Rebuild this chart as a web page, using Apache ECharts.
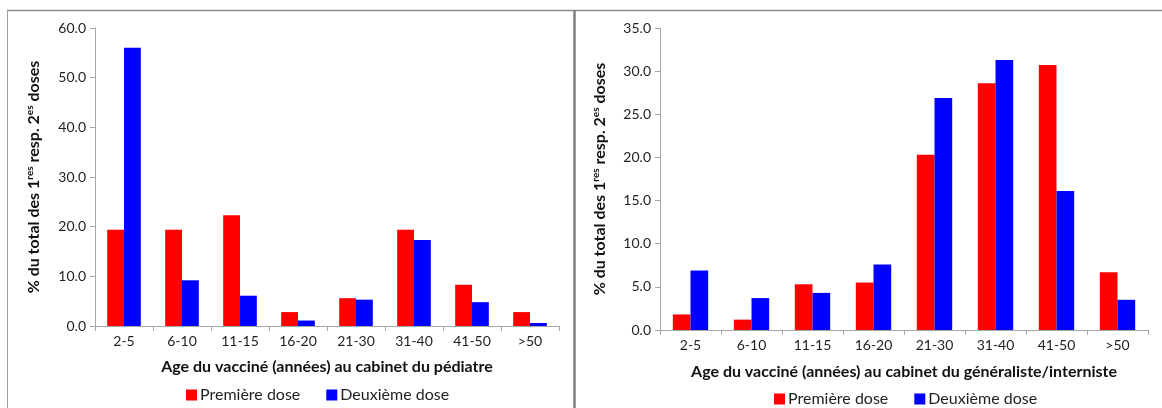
<!DOCTYPE html>
<html>
<head>
<meta charset="utf-8">
<script src="https://cdn.jsdelivr.net/npm/echarts@6/dist/echarts.min.js"></script>
<style>
  html, body { margin: 0; padding: 0; background: #fff; }
  #main { width: 1162px; height: 408px; }
</style>
</head>
<body>
<div id="main"></div>
<script>
// tranches d'age
var ageGroups = ['2-5', '6-10', '11-15', '16-20', '21-30', '31-40', '41-50', '>50'];

// cabinet du pediatre
var pedFirst = [19.4, 19.4, 22.3, 2.8, 5.6, 19.4, 8.3, 2.8];
var pedSecond = [56.0, 9.2, 6.1, 1.1, 5.3, 17.3, 4.8, 0.6];

// cabinet du generaliste / interniste
var genFirst = [1.8, 1.2, 5.3, 5.5, 20.3, 28.6, 30.7, 6.7];
var genSecond = [6.9, 3.7, 4.3, 7.6, 26.9, 31.3, 16.1, 3.5];

var seriesNames = ['Première dose', 'Deuxième dose'];
var colors = ['#ff0000', '#0000ff'];

var font = 'Lato, "Open Sans", sans-serif';
var axisGray = '#a6a6a6';

var yName = '% du total des 1{sup|res} resp. 2{sup|es} doses';
var yNameStyle = {
    fontFamily: font,
    fontWeight: 'bold',
    fontSize: 16,
    color: '#111',
    rich: {
        sup: {
            fontFamily: font,
            fontWeight: 'bold',
            fontSize: 10,
            color: '#111',
            verticalAlign: 'top',
            padding: [0, 0, 8, 0]
        }
    }
};

var makeX = function(gridIndex, name, gap) {
    return {
        type: 'category',
        gridIndex: gridIndex,
        data: ageGroups,
        name: name,
        nameLocation: 'middle',
        nameGap: gap,
        nameTextStyle: { fontFamily: font, fontWeight: 'bold', fontSize: 16, color: '#111' },
        axisLine: { lineStyle: { color: axisGray, width: 1 } },
        axisTick: { show: true, length: 5, lineStyle: { color: axisGray } },
        axisLabel: { fontFamily: font, fontSize: 14, color: '#1f1f1f', margin: 8, interval: 0 },
        splitLine: { show: false }
    };
};

var makeY = function(gridIndex, max, interval, gap) {
    return {
        type: 'value',
        gridIndex: gridIndex,
        min: 0,
        max: max,
        interval: interval,
        name: yName,
        nameLocation: 'middle',
        nameRotate: 90,
        nameGap: gap,
        nameTextStyle: yNameStyle,
        axisLine: { show: true, lineStyle: { color: axisGray, width: 1 } },
        axisTick: { show: true, length: 5, lineStyle: { color: axisGray } },
        axisLabel: {
            fontFamily: font, fontSize: 14, color: '#1f1f1f', margin: 9,
            formatter: function(v) { return v.toFixed(1); }
        },
        splitLine: { show: false }
    };
};

var makeBar = function(name, idx, data, color) {
    return {
        name: name,
        type: 'bar',
        xAxisIndex: idx,
        yAxisIndex: idx,
        data: data,
        barGap: '0%',
        barCategoryGap: '42%',
        itemStyle: { color: color },
        emphasis: { disabled: true }
    };
};

var makeLegend = function(left, top) {
    return {
        data: seriesNames,
        left: left,
        top: top,
        itemWidth: 11,
        itemHeight: 11,
        itemGap: 26,
        icon: 'rect',
        textStyle: { fontFamily: font, fontSize: 16, color: '#1f1f1f', padding: [0, 0, 0, -2] }
    };
};

var option = {
    animation: false,
    backgroundColor: '#ffffff',
    grid: [
        { left: 95, top: 28, width: 464, height: 298 },
        { left: 660, top: 28, width: 488, height: 302 }
    ],
    xAxis: [
        makeX(0, 'Age du vacciné (années) au cabinet du pédiatre', 33),
        makeX(1, 'Age du vacciné (années) au cabinet du généraliste/interniste', 34)
    ],
    yAxis: [
        makeY(0, 60, 10, 52),
        makeY(1, 35, 5, 51)
    ],
    legend: [
        makeLegend(181, 382),
        makeLegend(769, 386)
    ],
    series: [
        makeBar(seriesNames[0], 0, pedFirst, colors[0]),
        makeBar(seriesNames[1], 0, pedSecond, colors[1]),
        makeBar(seriesNames[0], 1, genFirst, colors[0]),
        makeBar(seriesNames[1], 1, genSecond, colors[1])
    ],
    // cadre de la capture d'ecran
    graphic: [
        { type: 'line', shape: { x1: 7, y1: 10.5, x2: 1162, y2: 10.5 }, style: { stroke: '#8c8c8c', lineWidth: 1.5 }, silent: true },
        { type: 'line', shape: { x1: 7.5, y1: 10, x2: 7.5, y2: 408 }, style: { stroke: '#a0a0a0', lineWidth: 1 }, silent: true },
        { type: 'line', shape: { x1: 574.5, y1: 10, x2: 574.5, y2: 408 }, style: { stroke: '#7f7f7f', lineWidth: 2.5 }, silent: true }
    ]
};

var myChart = echarts.init(document.getElementById('main'));
myChart.setOption(option);
</script>
</body>
</html>
